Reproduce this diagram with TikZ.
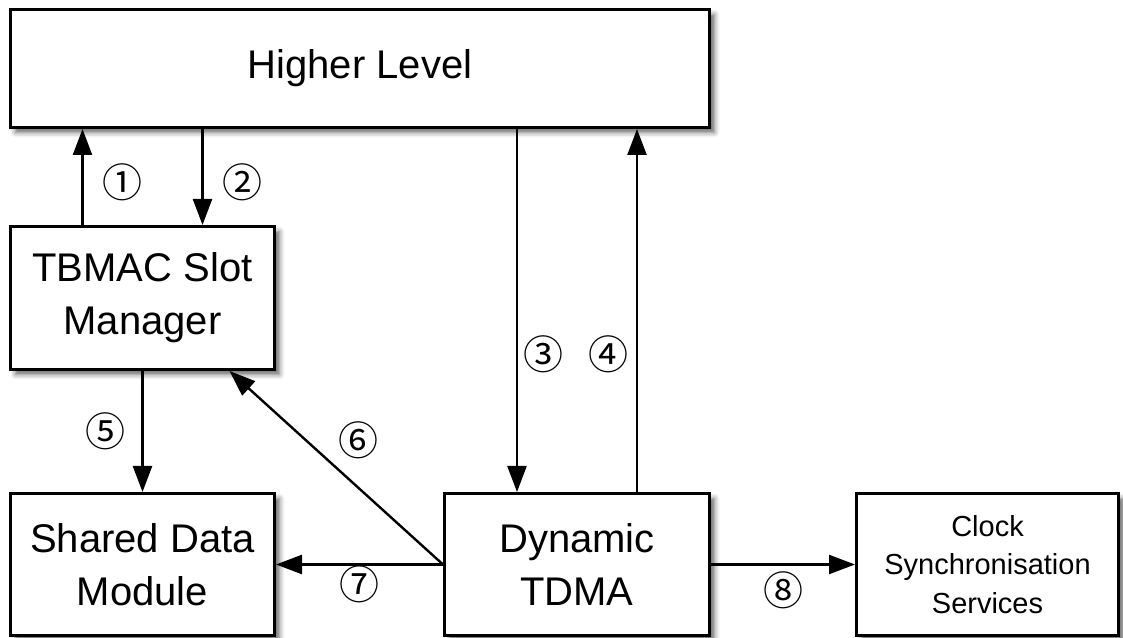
\documentclass[tikz,border=0pt]{standalone}
\usepackage{fontspec}
\setmainfont{Liberation Sans}
\newfontfamily\circfont{Noto Sans CJK JP}
\usetikzlibrary{arrows.meta,positioning,shadows.blur}

\begin{document}
\begin{tikzpicture}[x=1pt,y=1pt,
		block/.style={draw,line width=3pt,fill=white,align=center,inner sep=0pt,
			blur shadow={shadow xshift=5pt,shadow yshift=-5pt,shadow blur radius=5pt,shadow opacity=60},
			font=\fontsize{40}{53}\selectfont},
		small block/.style={block,font=\fontsize{29}{38.5}\selectfont},
		flow/.style={-{Triangle[length=26pt,width=19pt]},line width=2.4pt},
		num/.style={font=\circfont\fontsize{40}{40}\selectfont,inner sep=0pt}]
		\useasboundingbox (0,0) rectangle (1123,637);
		
		% layers
		\node[block, minimum width=699pt, minimum height=118pt] (hl) at (360,568.5) {Higher Level};
		\node[block, minimum width=264pt, minimum height=143pt] (tbmac) at (142.5,339) {TBMAC Slot\\Manager};
		\node[block, minimum width=264pt, minimum height=142pt] (shared) [below=121pt of tbmac] {Shared Data\\Module};
		\node[block, minimum width=265pt, minimum height=142pt] (dyn) [right=167pt of shared] {Dynamic\\TDMA};
		\node[small block, minimum width=262pt, minimum height=142pt] (clock) [right=144pt of dyn] {Clock\\Synchronisation\\Services};
		
		% slot manager <-> higher level
		\draw[flow] ([xshift=-60pt]tbmac.north) -- ([xshift=-60pt]tbmac.north |- hl.south)
		node[num, pos=0.44, xshift=40pt] {①};
		\draw[flow] ([xshift=60pt]tbmac.north |- hl.south) -- ([xshift=60pt]tbmac.north)
		node[num, pos=0.56, xshift=40pt] {②};
		
		% tdma <-> higher level
		\draw[flow] ([xshift=-60pt]dyn.north |- hl.south) -- ([xshift=-60pt]dyn.north)
		node[num, pos=0.62, xshift=26pt] {③};
		\draw[flow] ([xshift=60pt]dyn.north) -- ([xshift=60pt]dyn.north |- hl.south)
		node[num, pos=0.38, xshift=-29pt] {④};
		
		% lower level
		\draw[flow] (tbmac) -- (shared)
		node[num, midway, xshift=-37pt] {⑤};
		\draw[flow] (dyn.west) -- ([xshift=87pt]tbmac.south)
		node[num, pos=0.51, xshift=24pt, yshift=26pt] {⑥};
		\draw[flow] (dyn.west) -- (shared.east)
		node[num, midway, yshift=-20pt] {⑦};
		\draw[flow] (dyn.east) -- (clock.west)
		node[num, midway, yshift=-26pt] {⑧};
		\end{tikzpicture}
\end{document}
